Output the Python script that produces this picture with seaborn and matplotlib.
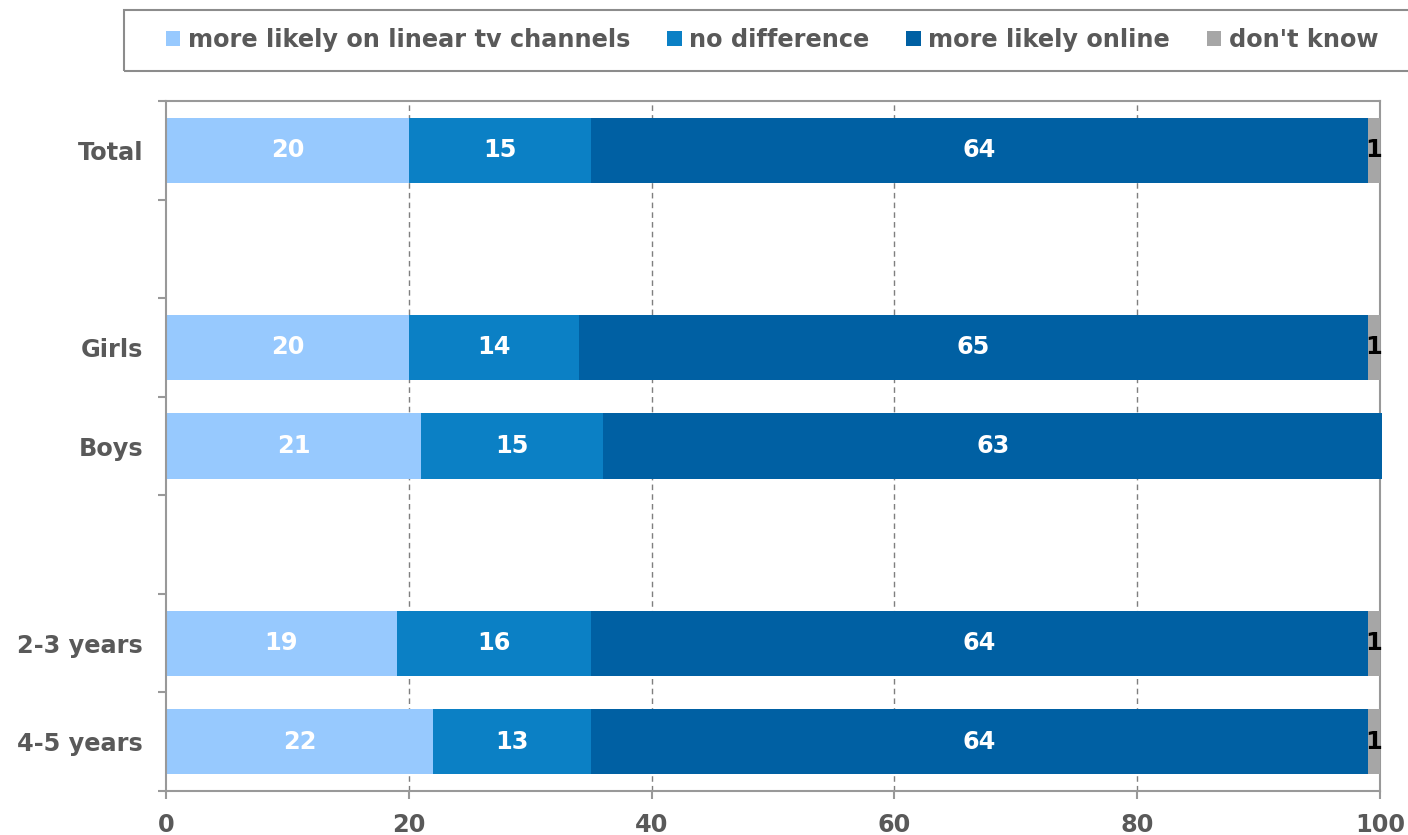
import numpy as np
import pandas as pd
import matplotlib
matplotlib.use("Agg")
import matplotlib.pyplot as plt
import seaborn as sns
from matplotlib.patches import Patch, Rectangle

categories = ["Total", "", "Girls", "Boys", " ", "2-3 years", "4-5 years"]
series = ["more likely on linear tv channels", "no difference", "more likely online", "don't know"]
linear_tv = [20, 0, 20, 21, 0, 19, 22]
no_difference = [15, 0, 14, 15, 0, 16, 13]
online = [64, 0, 65, 64.2, 0, 64, 64]
dont_know = [1, 0, 1, 0, 0, 1, 1]
label_linear = ["20", "", "20", "21", "", "19", "22"]
label_nodiff = ["15", "", "14", "15", "", "16", "13"]
label_online = ["64", "", "65", "63", "", "64", "64"]
label_dk = ["1", "", "1", "", "", "1", "1"]
x_ticks = [0, 20, 40, 60, 80, 100]

colors = ["#97C9FE", "#0B80C5", "#0060A3", "#A6A6A6"]
text_colors = ["white", "white", "white", "black"]
grey_text = "#595959"
spine_col = "#999999"
FS = 17.3

sns.set_theme(style="white")
plt.rcParams["font.family"] = ["DejaVu Sans"]
plt.rcParams["font.weight"] = "bold"

fig = plt.figure(figsize=(14.08, 8.35), dpi=100)
ax = fig.add_axes([166/1408, 1-791/835, (1380-166)/1408, (791-101)/835])

vals = np.array([linear_tv, no_difference, online, dont_know], dtype=float)
cum = np.cumsum(vals, axis=0)
labels = [label_linear, label_nodiff, label_online, label_dk]

# draw cumulative layers from largest to smallest
for i in range(3, -1, -1):
    df = pd.DataFrame({"cat": categories, "val": cum[i]})
    sns.barplot(data=df, y="cat", x="val", order=categories, orient="h",
                color=colors[i], saturation=1, width=0.66, ax=ax,
                edgecolor="none", linewidth=0, zorder=3)

for p in ax.patches:
    p.set_clip_on(False)

for i in range(4):
    starts = cum[i] - vals[i]
    for j, cat in enumerate(categories):
        if labels[i][j]:
            ax.text(starts[j] + vals[i][j] / 2, j, labels[i][j], ha="center", va="center",
                    color=text_colors[i], fontsize=FS, fontweight="bold", zorder=5)

ax.set_xlim(0, 100)
ax.set_ylim(6.5, -0.5)
ax.set_xticks(x_ticks)
ax.set_xticklabels([str(t) for t in x_ticks])
ax.set_xlabel("")
ax.set_ylabel("")

ax.set_yticks(range(len(categories)))
ax.set_yticklabels(categories)
ax.set_yticks(np.arange(-0.5, 7, 1), minor=True)
ax.tick_params(axis="y", which="major", length=0, pad=16.5, labelsize=FS, labelcolor=grey_text)
ax.tick_params(axis="y", which="minor", length=5.5, width=1.5, color=spine_col, direction="out", left=True)
ax.tick_params(axis="x", which="major", length=5.5, width=1.5, color=spine_col, direction="out",
               bottom=True, pad=10, labelsize=FS, labelcolor=grey_text)
for t in ax.get_xticklabels() + ax.get_yticklabels():
    t.set_fontweight("bold")

for name, s in ax.spines.items():
    s.set_visible(True)
    s.set_color(spine_col)
    s.set_linewidth(1.5)
    s.set_zorder(2 if name == "right" else 6)

for xv in x_ticks[1:-1]:
    ax.axvline(xv, color="#7F7F7F", linestyle=(0, (4, 3)), linewidth=1.0, zorder=1)

handles = [Patch(facecolor=c, edgecolor="none") for c in colors]
leg = fig.legend(handles, series, loc="center", bbox_to_anchor=(772/1408, 1-40/835),
                 ncol=4, frameon=False, handlelength=0.6, handleheight=0.6,
                 handletextpad=0.3, columnspacing=1.55,
                 prop={"size": FS, "weight": "bold"})
for t in leg.get_texts():
    t.set_color(grey_text)

fig.patches.append(Rectangle((124/1408, 1-71/835), (1420-124)/1408, 61/835,
                             transform=fig.transFigure, fill=False,
                             edgecolor="#8C8C8C", linewidth=1.5))

fig.savefig("out.png", dpi=100)
